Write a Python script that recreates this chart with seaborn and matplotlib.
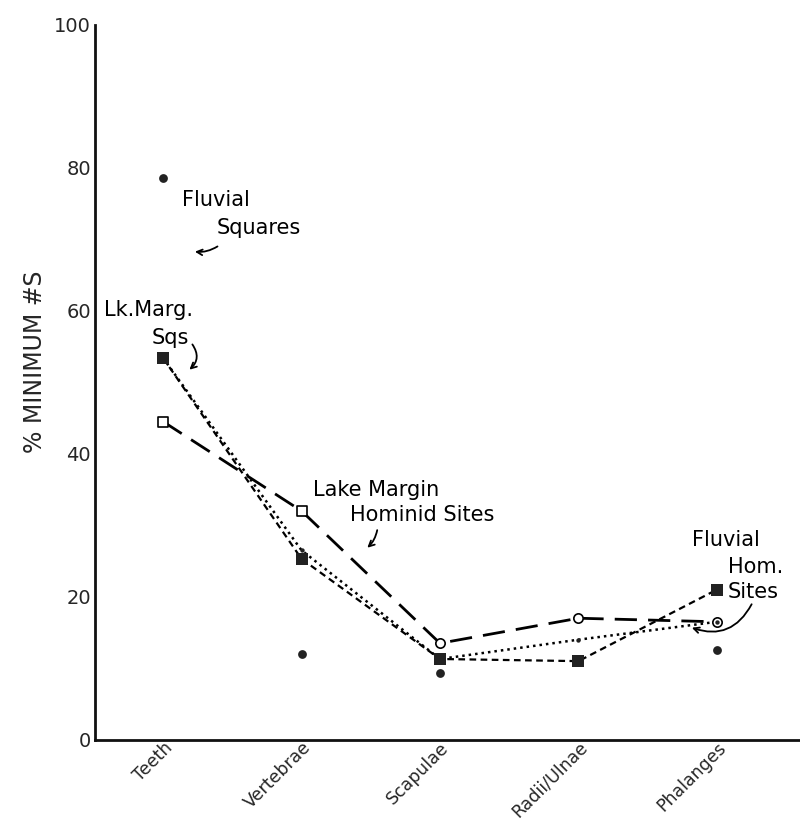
import numpy as np
import pandas as pd
import matplotlib
matplotlib.use('Agg')
import matplotlib.pyplot as plt
import seaborn as sns

# 뼈 부위별 최소 개체수 비율 (%)
bones = ['Teeth', 'Vertebrae', 'Scapulae', 'Radii/Ulnae', 'Phalanges']
lake_hom_sites = [44.5, 32, 13.5, 17, 16.5]    # 긴 점선, 빈 마커
lake_sqs_a = [53.4, 25.3, 11.3, 11, 21]        # 짧은 점선, 채운 사각형
lake_sqs_b = [53.4, 26.5, 11.3, 14, 16.5]      # 점선
fluvial_bones = ['Teeth', 'Vertebrae', 'Scapulae', 'Phalanges']
fluvial_sqs = [78.6, 12, 9.3, 12.5]            # 하천 구역 (점만)
yticks = [0, 20, 40, 60, 80, 100]

pos = {b: i for i, b in enumerate(bones)}
df = pd.concat([
    pd.DataFrame({'bone': bones, 'pct': lake_hom_sites, 'series': 'hom'}),
    pd.DataFrame({'bone': bones, 'pct': lake_sqs_a, 'series': 'sqs_a'}),
    pd.DataFrame({'bone': bones, 'pct': lake_sqs_b, 'series': 'sqs_b'}),
])
df['x'] = df['bone'].map(pos)
fl = pd.DataFrame({'bone': fluvial_bones, 'pct': fluvial_sqs})
fl['x'] = fl['bone'].map(pos)

sns.set_style('white')
plt.rcParams['font.family'] = ['DejaVu Sans']

fig = plt.figure(figsize=(8, 8.22), dpi=100)
ax = fig.add_axes([0.119, 0.1, 0.881, 0.87])

styles = {'hom': ((8, 4), 2.0), 'sqs_a': ((3, 2), 1.6), 'sqs_b': ((1, 1.6), 1.8)}
for name, (dash, lw) in styles.items():
    sub = df[df['series'] == name]
    sns.lineplot(data=sub, x='x', y='pct', ax=ax, color='black', lw=lw,
                 dashes=False, sort=False, legend=False)
    ax.lines[-1].set_dashes(dash)

# 마커
hom = df[df['series'] == 'hom']
sns.scatterplot(data=hom[hom['x'] < 2], x='x', y='pct', ax=ax, marker='s', s=45,
                facecolor='white', edgecolor='black', linewidth=1.2, zorder=4, legend=False)
sns.scatterplot(data=hom[hom['x'] >= 2], x='x', y='pct', ax=ax, marker='o', s=45,
                facecolor='white', edgecolor='black', linewidth=1.2, zorder=4, legend=False)
sns.scatterplot(data=df[df['series'] == 'sqs_a'], x='x', y='pct', ax=ax, marker='s', s=70,
                color='#222222', linewidth=0, zorder=4, legend=False)
sns.scatterplot(data=df[df['series'] == 'sqs_b'].iloc[1:], x='x', y='pct', ax=ax, marker='o', s=10,
                color='#222222', linewidth=0, zorder=4, legend=False)
sns.scatterplot(data=fl, x='x', y='pct', ax=ax, marker='o', s=40,
                color='#222222', linewidth=0, zorder=4, legend=False)

ax.set_xlim(-0.49, 4.6)
ax.set_ylim(0, 100)
ax.set_xticks(range(len(bones)))
ax.set_xticklabels(bones, rotation=45, ha='right', va='top', rotation_mode='anchor', fontsize=12.5)
ax.set_yticks(yticks)
ax.set_yticklabels([str(t) for t in yticks], fontsize=14)
ax.tick_params(axis='both', direction='in', length=4, width=1, color='black', pad=3)
ax.tick_params(axis='x', pad=-1)
ax.set_xlabel('')
ax.set_ylabel('')
for s in ['top', 'right']:
    ax.spines[s].set_visible(False)
for s in ['left', 'bottom']:
    ax.spines[s].set_color('#111111')
    ax.spines[s].set_linewidth(2)

fig.text(0.044, 0.56, '% MINIMUM #S', rotation=90, ha='center', va='center', fontsize=17)

# 주석
kw = dict(fontsize=15, color='black')
arr = dict(arrowstyle='->', color='black', lw=1.3)
ax.text(0.137, 75.5, 'Fluvial', ha='left', va='center', **kw)
ax.text(0.39, 71.6, 'Squares', ha='left', va='center', **kw)
ax.annotate('', xy=(0.21, 68.3), xytext=(0.41, 69.2),
            arrowprops=dict(arr, connectionstyle='arc3,rad=-0.2'))

ax.text(-0.43, 60.1, 'Lk.Marg.', ha='left', va='center', **kw)
ax.text(-0.08, 56.2, 'Sqs', ha='left', va='center', **kw)
ax.annotate('', xy=(0.175, 51.5), xytext=(0.2, 55.6),
            arrowprops=dict(arr, connectionstyle='arc3,rad=-0.5'))

ax.text(1.08, 35.0, 'Lake Margin', ha='left', va='center', **kw)
ax.text(1.35, 31.5, 'Hominid Sites', ha='left', va='center', **kw)
ax.annotate('', xy=(1.46, 26.6), xytext=(1.55, 29.7),
            arrowprops=dict(arr, connectionstyle='arc3,rad=-0.2'))

ax.text(3.82, 28.0, 'Fluvial', ha='left', va='center', **kw)
ax.text(4.08, 24.2, 'Hom.', ha='left', va='center', **kw)
ax.text(4.08, 20.7, 'Sites', ha='left', va='center', **kw)
ax.annotate('', xy=(3.8, 15.8), xytext=(4.26, 19.3),
            arrowprops=dict(arr, connectionstyle='arc3,rad=-0.45'))

plt.savefig('out.png', dpi=100)
